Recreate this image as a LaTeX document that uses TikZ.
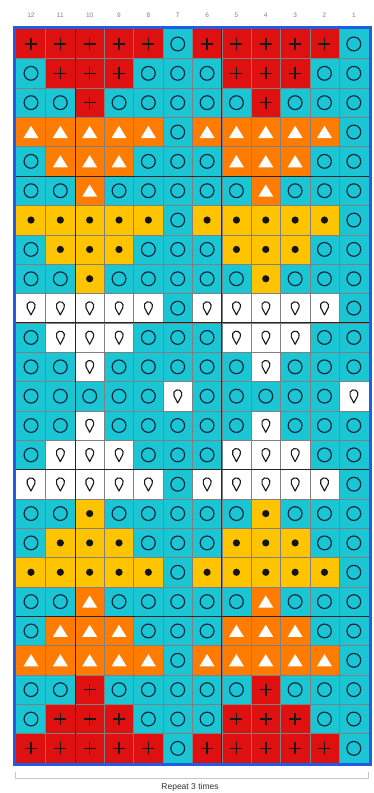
\documentclass[tikz,border=0pt]{standalone}
\usepackage{fontspec}
\setmainfont{Liberation Sans}
\definecolor{cred}{RGB}{222,16,16}
\definecolor{ccyan}{RGB}{26,198,212}
\definecolor{corange}{RGB}{255,124,0}
\definecolor{cyellow}{RGB}{255,196,0}
\definecolor{cblue}{RGB}{32,92,228}
\definecolor{cnavy}{RGB}{24,40,62}
\tikzset{
  plusst/.style={line width=1.6pt,draw=black!90},
  ringst/.style={line width=1.2pt,draw=cnavy},
  thinline/.style={line width=0.45pt,draw=black!50},
  boldline/.style={line width=0.9pt,draw=black!85},
  numlab/.style={font=\fontsize{6.5}{7}\selectfont,text=black!50,inner sep=0pt},
}
\newcommand\cellbox[1]{\fill[#1] (-14.8,-14.8) rectangle (14.8,14.8);}
\newcommand\cellP{\cellbox{cred}\draw[plusst] (-6,0) -- (6,0) (0,-6) -- (0,6);}
\newcommand\cellO{\cellbox{ccyan}\draw[ringst] (0,0) circle (6.9);}
\newcommand\cellT{\cellbox{corange}\fill[white] (0,6.2) -- (7.5,-6) -- (-7.5,-6) -- cycle;}
\newcommand\cellD{\cellbox{cyellow}\fill[black!92] (0,0) circle (3.6);}
\newcommand\cellW{\cellbox{white}\draw[line width=1.1pt,draw=black!90,fill=white,line join=round]
  (0,-6.8) -- (3.715,0.241) arc[start angle=-27.8,end angle=207.8,radius=4.2] -- cycle;}
\begin{document}
\begin{tikzpicture}[x=1pt,y=1pt]
\useasboundingbox (0,0) rectangle (374,793);
\fill[white] (0,0) rectangle (374,793);
% cells
\foreach \rowlist [count=\ri] in {
 {P,P,P,P,P,O,P,P,P,P,P,O},
 {O,P,P,P,O,O,O,P,P,P,O,O},
 {O,O,P,O,O,O,O,O,P,O,O,O},
 {T,T,T,T,T,O,T,T,T,T,T,O},
 {O,T,T,T,O,O,O,T,T,T,O,O},
 {O,O,T,O,O,O,O,O,T,O,O,O},
 {D,D,D,D,D,O,D,D,D,D,D,O},
 {O,D,D,D,O,O,O,D,D,D,O,O},
 {O,O,D,O,O,O,O,O,D,O,O,O},
 {W,W,W,W,W,O,W,W,W,W,W,O},
 {O,W,W,W,O,O,O,W,W,W,O,O},
 {O,O,W,O,O,O,O,O,W,O,O,O},
 {O,O,O,O,O,W,O,O,O,O,O,W},
 {O,O,W,O,O,O,O,O,W,O,O,O},
 {O,W,W,W,O,O,O,W,W,W,O,O},
 {W,W,W,W,W,O,W,W,W,W,W,O},
 {O,O,D,O,O,O,O,O,D,O,O,O},
 {O,D,D,D,O,O,O,D,D,D,O,O},
 {D,D,D,D,D,O,D,D,D,D,D,O},
 {O,O,T,O,O,O,O,O,T,O,O,O},
 {O,T,T,T,O,O,O,T,T,T,O,O},
 {T,T,T,T,T,O,T,T,T,T,T,O},
 {O,O,P,O,O,O,O,O,P,O,O,O},
 {O,P,P,P,O,O,O,P,P,P,O,O},
 {P,P,P,P,P,O,P,P,P,P,P,O}} {
  \foreach \s [count=\ci] in \rowlist {
    \pgfmathsetmacro\cx{16.3+(\ci-0.5)*29.35}
    \pgfmathsetmacro\cy{763.7-(\ri-0.5)*29.35}
    \begin{scope}[shift={(\cx,\cy)}]
      \csname cell\s\endcsname
    \end{scope}
  }
}
% grid lines
\foreach \k in {1,...,11} {
  \pgfmathsetmacro\gx{16.3+\k*29.35}
  \draw[thinline] (\gx,29.95) -- (\gx,763.7);
}
\foreach \k in {1,...,24} {
  \pgfmathsetmacro\gy{763.7-\k*29.35}
  \draw[thinline] (16.3,\gy) -- (368.5,\gy);
}
\foreach \k in {2,7} {
  \pgfmathsetmacro\gx{16.3+\k*29.35}
  \draw[boldline] (\gx,29.95) -- (\gx,763.7);
}
\foreach \k in {5,10,15,20} {
  \pgfmathsetmacro\gy{763.7-\k*29.35}
  \draw[boldline] (16.3,\gy) -- (368.5,\gy);
}
% blue frame
\draw[cblue,line width=3pt] (14.8,28.45) rectangle (370,765.2);
% column numbers
\foreach \n [count=\ci] in {12,11,10,9,8,7,6,5,4,3,2,1} {
  \pgfmathsetmacro\cx{16.3+(\ci-0.5)*29.35}
  \node[numlab] (col\n) at (\cx,778) {\n};
}
% repeat bracket
\coordinate (bl) at (15,21);
\coordinate (br) at (368,21);
\draw[black!22,line width=0.8pt] (bl) -- ++(0,-6) -| (br);
\node[font=\fontsize{8.5}{9}\selectfont,text=black!80,inner sep=0pt] (rep) at (190,6) {Repeat 3 times};
\end{tikzpicture}
\end{document}
